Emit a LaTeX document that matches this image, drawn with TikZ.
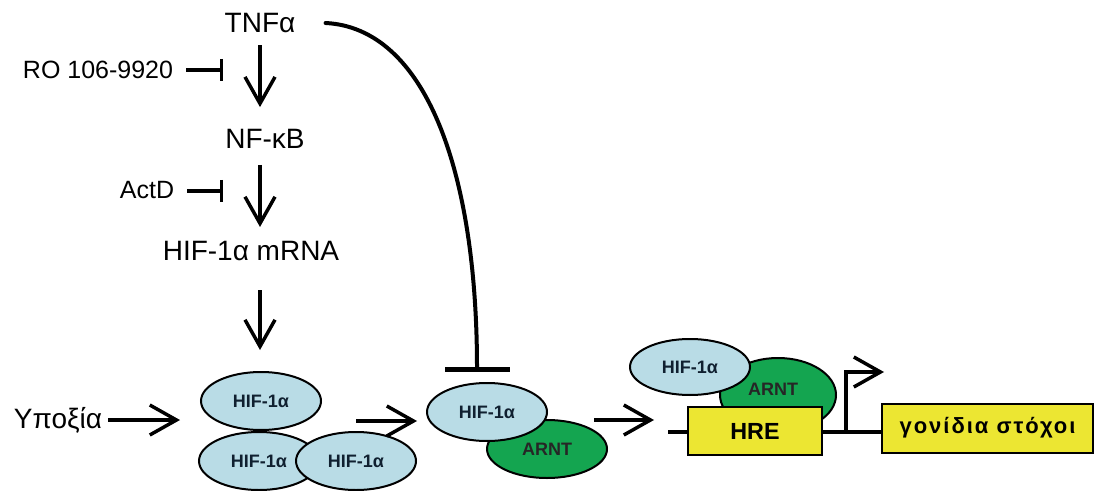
\documentclass[tikz,border=0pt]{standalone}
\usepackage{fontspec}
\setmainfont{Liberation Sans}
\usetikzlibrary{arrows.meta,shapes.geometric}
\definecolor{hifblue}{RGB}{185,220,230}
\definecolor{arntgreen}{RGB}{20,165,80}
\definecolor{genyellow}{RGB}{236,230,50}
\definecolor{hiftext}{RGB}{16,32,48}
\begin{document}
\begin{tikzpicture}[x=0.75pt,y=-0.75pt,
  lbl/.style={inner sep=0pt, font=\fontsize{21}{24}\selectfont},
  sm/.style={inner sep=0pt, font=\fontsize{18.75}{22}\selectfont},
  arr/.style={line width=2.6pt, -{Straight Barb[length=20pt,width=22.5pt]}},
  inh/.style={line width=2.6pt, -{Bar[width=16.5pt]}},
  inhbig/.style={line width=3pt, line cap=round, -{Bar[width=48.75pt,line width=4pt]}},
  dna/.style={line width=2.6pt},
  hif/.style={ellipse, draw, line width=1.5pt, fill=hifblue, text=hiftext, minimum width=90pt, minimum height=43.5pt, inner sep=0pt, font=\bfseries\fontsize{13.5}{16}\selectfont},
  arnt/.style={ellipse, draw, line width=1.5pt, fill=arntgreen, text=black!85, minimum width=90pt, minimum height=43.5pt, inner sep=0pt, font=\bfseries\fontsize{13.5}{16}\selectfont},
  ybox/.style={draw, line width=1.5pt, fill=genyellow, inner sep=0pt, font=\bfseries\fontsize{17.5}{20}\selectfont}
]
\useasboundingbox (0,0) rectangle (1094,491);
\fill[white] (0,0) rectangle (1094,491);

% vertical cascade
\coordinate (ax) at (260,0);
\node[lbl] (tnf) at (260,23) {TNFα};
\node[lbl] (nfkb) at (265,139) {NF-κB};
\node[lbl] (mrna) at (251,251) {HIF-1α mRNA};
\node[sm] (ro) at (98,70) {RO 106-9920};
\node[sm] (actd) at (147,190) {ActD};
\coordinate (roT) at (223,70);
\coordinate (actdT) at (223,191);

\draw[arr, shorten <=9pt, shorten >=16.5pt] (tnf.south -| ax) -- (nfkb.north -| ax);
\draw[arr, shorten <=12pt, shorten >=10.5pt] (nfkb.south -| ax) -- (mrna.north -| ax);
\draw[inh, shorten <=9.75pt] (ro.east) -- (roT);
\draw[inh, shorten <=9.75pt] (actd.east |- actdT) -- (actdT);

% HIF-1alpha pool
\node[hif] (hif1) at (261,401) {HIF-1α};
\node[hif] (hif2) at (259,461) {HIF-1α};
\node[hif] (hif3) at (356,461) {HIF-1α};
\draw[arr, shorten <=21.75pt, shorten >=15.75pt] (mrna.south -| ax) -- (hif1.north -| ax);

\node[lbl] (hyp) at (58,420) {Υποξία};
\draw[arr, shorten <=4.5pt, shorten >=15pt] (hyp.east) -- (hyp.east -| hif1.west);

% middle complex
\node[arnt] (arntM) at (547,449) {ARNT};
\node[hif] (hifM) at (487,412) {HIF-1α};
\draw[arr] ([xshift=25.5pt,yshift=-15pt]hif1.east) -- ([xshift=-6.75pt,yshift=-6.75pt]hifM.west);

% TNF inhibition of complex
\draw[inhbig] ([xshift=22.5pt]tnf.east) .. controls (425,28) and (477,170) .. ([xshift=-7.5pt,yshift=7.5pt]hifM.north);

% DNA part
\node[arnt, minimum width=87pt, minimum height=55.5pt] (arntR) at (778,395) {};
\node[font=\bfseries\fontsize{13.5}{16}\selectfont, text=black!85, inner sep=0pt] (arntRt) at (773,389) {ARNT};
\node[hif, minimum height=42pt] (hifR) at (690,367) {HIF-1α};
\node[ybox, minimum width=100.5pt, minimum height=36pt] (hre) at (755,431) {HRE};
\node[ybox, minimum width=158.25pt, minimum height=36.75pt, font=\bfseries\fontsize{16.5}{20}\selectfont\addfontfeatures{LetterSpace=9}] (gene) at (987.5,428) {γονίδια στόχοι};

\draw[arr] ([xshift=34.5pt,yshift=-6pt]hifM.east) -- ([xshift=-24.75pt,yshift=8.25pt]hre.west);

\coordinate (dnaL) at (668,432);
\coordinate (tss) at (846,432);
\coordinate (promEnd) at (884,372);
\draw[dna] (dnaL) -- (hre.west |- dnaL);
\draw[dna] (hre.east |- dnaL) -- (gene.west |- dnaL);
\draw[arr] (tss) |- (promEnd);
\end{tikzpicture}
\end{document}
